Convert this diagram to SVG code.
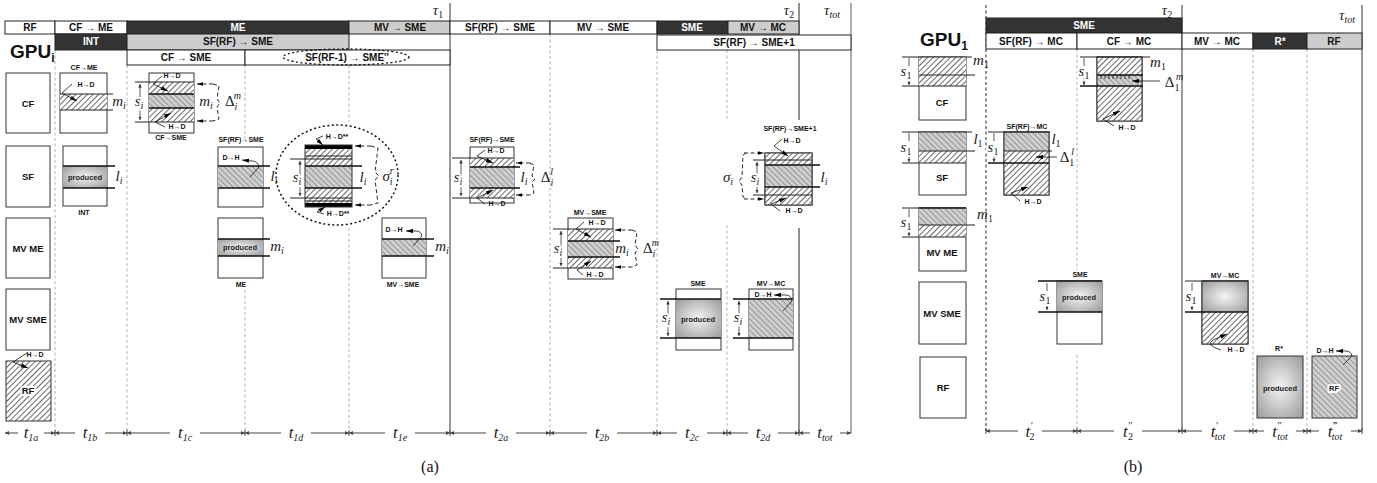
<svg xmlns="http://www.w3.org/2000/svg" width="1377" height="483" viewBox="0 0 1377 483">
<defs>
<style>
.h{font-family:"Liberation Sans",Arial,sans-serif;font-weight:bold;font-size:10px;text-anchor:middle;fill:#111}
.hw{fill:#fff}
.s{font-family:"Liberation Sans",Arial,sans-serif;font-weight:bold;font-size:7px;text-anchor:middle;fill:#111}
.r{font-family:"Liberation Sans",Arial,sans-serif;font-weight:bold;font-size:9.5px;text-anchor:middle;fill:#111}
.p{font-family:"Liberation Sans",Arial,sans-serif;font-weight:bold;font-size:7.5px;text-anchor:middle;fill:#222}
.m{font-family:"Liberation Serif","Times New Roman",serif;font-style:italic;font-size:15px;text-anchor:middle;fill:#222}
.t{font-size:17px}
.up{font-style:normal}
.sb{font-size:10px}
.halo{stroke:#fff;stroke-width:4;paint-order:stroke;stroke-linejoin:round}
.cell{stroke:#222;stroke-width:1}
.box{fill:#fff;stroke:#333;stroke-width:1}
.bn{fill:none;stroke:#333;stroke-width:1}
.ln{stroke:#222;stroke-width:1;fill:none}
.tk{stroke:#111;stroke-width:1.6;fill:none}
.vd{stroke:#b0b0b0;stroke-width:1;stroke-dasharray:3 2.5;fill:none}
.vk{stroke:#222;stroke-width:1;stroke-dasharray:3 2.5;fill:none}
.ar{stroke:#111;stroke-width:0.8;fill:none;marker-end:url(#ah)}
.db{stroke:#111;stroke-width:0.9;stroke-dasharray:4 2.5;fill:none}
.dba{stroke:#111;stroke-width:0.9;stroke-dasharray:4 2.5;fill:none;marker-end:url(#ah2)}
.dim{stroke:#333;stroke-width:0.8;fill:none;marker-start:url(#da);marker-end:url(#da)}
.dim1{stroke:#333;stroke-width:0.8;fill:none;marker-end:url(#da)}
.ax{stroke:#444;stroke-width:1;fill:none;marker-start:url(#ta);marker-end:url(#ta)}
.gap{fill:#fff}
</style>
<pattern id="hf" width="4" height="4" patternUnits="userSpaceOnUse" patternTransform="rotate(45)">
<rect width="4" height="4" fill="#fff"/>
<line x1="0.5" y1="0" x2="0.5" y2="4" stroke="#444" stroke-width="0.8"/>
</pattern>
<pattern id="hb" width="4" height="4" patternUnits="userSpaceOnUse" patternTransform="rotate(-45)">
<rect width="4" height="4" fill="#cfcfcf"/>
<line x1="0.5" y1="0" x2="0.5" y2="4" stroke="#888" stroke-width="0.8"/>
</pattern>
<radialGradient id="prod" cx="50%" cy="50%" r="70%">
<stop offset="0" stop-color="#f4f4f4"/>
<stop offset="1" stop-color="#9a9a9a"/>
</radialGradient>
<marker id="ah" viewBox="0 0 10 6" refX="10" refY="3" markerWidth="7" markerHeight="4.5" markerUnits="userSpaceOnUse" orient="auto"><path d="M0,0 L10,3 L0,6 z" fill="#000"/></marker>
<marker id="ah2" viewBox="0 0 10 6" refX="10" refY="3" markerWidth="6" markerHeight="4" markerUnits="userSpaceOnUse" orient="auto"><path d="M0,0 L10,3 L0,6 z" fill="#000"/></marker>
<marker id="da" viewBox="0 0 6 6" refX="6" refY="3" markerWidth="3.5" markerHeight="3.5" markerUnits="userSpaceOnUse" orient="auto-start-reverse"><path d="M0,0 L6,3 L0,6 z" fill="#333"/></marker>
<marker id="ta" viewBox="0 0 6 6" refX="6" refY="3" markerWidth="4" markerHeight="4" markerUnits="userSpaceOnUse" orient="auto-start-reverse"><path d="M0,0 L6,3 L0,6 z" fill="#444"/></marker>
</defs>
<rect width="1377" height="483" fill="#fff"/>

<g id="grid-a">
<line class="vd" x1="55" y1="50" x2="55" y2="433"/>
<line class="vd" x1="127" y1="65" x2="127" y2="433"/>
<path class="vd" d="M245,65 V140 M245,290 V433"/>
<path class="vd" d="M349,65 V122 M349,228 V433"/>
<line class="vd" x1="550" y1="34" x2="550" y2="433"/>
<line class="vd" x1="657" y1="50" x2="657" y2="433"/>
<path class="vd" d="M727,50 V120 M727,225 V433"/>
<line x1="450" y1="3" x2="450" y2="433" stroke="#9a9a9a" stroke-width="2"/>
<path d="M799,3 V120 M799,228 V433" stroke="#222" stroke-width="1" fill="none"/>
<line x1="851" y1="3" x2="851" y2="433" stroke="#9a9a9a" stroke-width="1.6"/>
</g>
<g id="grid-b">
<line class="vk" x1="986" y1="5" x2="986" y2="431"/>
<path class="vd" d="M1077,49 V270 M1077,355 V431"/>
<line class="vd" x1="1253" y1="49" x2="1253" y2="431"/>
<line class="vd" x1="1307" y1="49" x2="1307" y2="431"/>
<line x1="1182" y1="5" x2="1182" y2="431" stroke="#555" stroke-width="1.2"/>
<line x1="1362" y1="5" x2="1362" y2="431" stroke="#555" stroke-width="1.2"/>
</g>

<g id="header-a">
<text class="m" x="438" y="15">τ<tspan class="sb up" dy="3">1</tspan></text>
<text class="m" x="789" y="15">τ<tspan class="sb up" dy="3">2</tspan></text>
<text class="m" x="832" y="15">τ<tspan class="sb" dy="3">tot</tspan></text>
<rect class="cell" x="5" y="21" width="50" height="13" fill="#fff"/><text class="h" x="30" y="31">RF</text>
<rect class="cell" x="55" y="21" width="72" height="13" fill="#fff"/><text class="h" x="91" y="31">CF → ME</text>
<rect class="cell" x="127" y="21" width="222" height="13" fill="#333"/><text class="h hw" x="238" y="31">ME</text>
<rect class="cell" x="349" y="21" width="101" height="13" fill="#cdcdcd"/><text class="h" x="400" y="31">MV → SME</text>
<rect class="cell" x="450" y="21" width="100" height="13" fill="#fff"/><text class="h" x="500" y="31">SF(RF) → SME</text>
<rect class="cell" x="550" y="21" width="107" height="13" fill="#fff"/><text class="h" x="603" y="31">MV → SME</text>
<rect class="cell" x="657" y="21" width="71" height="13" fill="#333"/><text class="h hw" x="692" y="31">SME</text>
<rect class="cell" x="728" y="21" width="71" height="13" fill="#cdcdcd"/><text class="h" x="763" y="31">MV → MC</text>
<rect class="cell" x="55" y="34" width="72" height="16" fill="#333"/><text class="h hw" x="91" y="45">INT</text>
<rect class="cell" x="127" y="34" width="222" height="16" fill="#cdcdcd"/><text class="h" x="238" y="45">SF(RF) → SME</text>
<rect class="cell" x="657" y="35" width="194" height="15" fill="#fff"/><text class="h" x="754" y="46">SF(RF) → SME+1</text>
<rect class="cell" x="127" y="50" width="118" height="15" fill="#fff"/><text class="h" x="186" y="61">CF → SME</text>
<rect class="cell" x="245" y="50" width="205" height="15" fill="#fff"/><text class="h" x="347" y="61">SF(RF-1) → SME''</text>
<ellipse cx="346" cy="57" rx="63" ry="8" fill="none" stroke="#111" stroke-width="1.3" stroke-dasharray="2 2.5"/>
</g>

<g id="rows-a">
<text x="10" y="58" font-family="Liberation Sans,Arial,sans-serif" font-weight="bold" font-size="19" fill="#111">GPU<tspan font-size="12" dy="4">i</tspan></text>
<rect class="box" x="6" y="73" width="44" height="60"/><text class="r" x="28" y="107">CF</text>
<rect class="box" x="6" y="146" width="44" height="61"/><text class="r" x="28" y="180">SF</text>
<rect class="box" x="6" y="218" width="44" height="60"/><text class="r" x="28" y="252">MV ME</text>
<rect class="box" x="6" y="289" width="44" height="61"/><text class="r" x="28" y="323">MV SME</text>
</g>
<g id="rf-a">
<rect x="6" y="361" width="45" height="60" fill="url(#hf)" stroke="#333"/>
<text class="r halo" x="28" y="394">RF</text>
<text class="s" x="35" y="357">H→D</text>
<path class="ar" d="M27,353 L13,362 L28,368"/>
</g>

<g id="cf-me">
<text class="s" x="84" y="70">CF→ME</text>
<rect class="box" x="60" y="73" width="47" height="60"/>
<rect x="60" y="94" width="47" height="16" fill="url(#hf)"/>
<path class="ln" d="M60,94 H113 M60,110 H113"/>
<text class="s" x="86" y="87">H→D</text>
<path class="ar" d="M72,84 L62,93 L77,101"/>
<text class="m" x="119" y="106">m<tspan class="sb" dy="3">i</tspan></text>
</g>
<g id="int">
<rect class="box" x="63" y="146" width="44" height="60"/>
<rect x="63" y="166" width="44" height="22" fill="url(#prod)"/>
<path class="tk" d="M63,166 H115 M63,188 H115"/>
<text class="p" x="85" y="180">produced</text>
<text class="m" x="119" y="181">l<tspan class="sb" dy="3">i</tspan></text>
<text class="s" x="84" y="215">INT</text>
</g>

<g id="cf-sme">
<rect class="box" x="149" y="73" width="45" height="60"/>
<rect x="149" y="82" width="45" height="12" fill="url(#hf)"/>
<rect x="149" y="94" width="45" height="14" fill="url(#hb)"/>
<rect x="149" y="108" width="45" height="14" fill="url(#hf)"/>
<path class="ln" d="M135,82 H194 M135,122 H194"/>
<path class="tk" d="M149,94 H194 M149,108 H194"/>
<path class="dim" d="M140,84 V120"/>
<text class="m halo" x="139" y="106">s<tspan class="sb" dy="3">i</tspan></text>
<text class="s" x="172" y="78">H→D</text>
<path class="ar" d="M162,76 L153,84 L168,91"/>
<text class="s" x="177" y="129">H→D</text>
<path class="ar" d="M165,127 L155,122 L171,113"/>
<text class="m" x="206" y="106">m<tspan class="sb" dy="3">i</tspan></text>
<path class="dba" d="M213,84 H197"/>
<path class="dba" d="M213,121 H197"/>
<path class="db" d="M213,84 L219,86 L217,99 L220,103 L217,107 L219,119 L213,121"/>
<text class="m" x="233" y="106"><tspan class="up">Δ</tspan><tspan class="sb" dy="4">i</tspan><tspan class="sb" dx="-3.5" dy="-11">m</tspan></text>
<text class="s" x="171" y="140">CF→SME</text>
</g>

<g id="sfrf-sme-1d">
<text class="s" x="241" y="142">SF(RF)→SME</text>
<rect class="box" x="218" y="147" width="45" height="60"/>
<rect x="218" y="166" width="45" height="22" fill="url(#hb)"/>
<path class="tk" d="M218,166 H270 M218,188 H270"/>
<text class="s" x="231" y="160">D→H</text>
<path class="ar" d="M250,177 L259,167 Q258,161 252,161 L242,160"/>
<text class="m" x="274" y="181">l<tspan class="sb" dy="3">i</tspan></text>
</g>
<g id="me">
<rect class="box" x="218" y="218" width="45" height="60"/>
<rect x="218" y="239" width="45" height="17" fill="url(#prod)"/>
<path class="tk" d="M218,239 H270 M218,256 H270"/>
<text class="p" x="240" y="250">produced</text>
<text class="m" x="277" y="251">m<tspan class="sb" dy="3">i</tspan></text>
<text class="s" x="241" y="287">ME</text>
</g>

<g id="sigma-r">
<ellipse cx="337" cy="175" rx="61" ry="50" fill="none" stroke="#111" stroke-width="1.5" stroke-dasharray="2 2.5"/>
<rect x="305" y="149" width="47" height="54" fill="url(#hf)"/>
<rect x="305" y="166" width="47" height="22" fill="url(#hb)"/>
<rect x="305" y="145" width="47" height="4" fill="#000"/>
<rect x="305" y="203" width="47" height="4" fill="#000"/>
<rect class="bn" x="305" y="145" width="47" height="62"/>
<path class="ln" d="M305,156 H352 M290,159 H352 M290,198 H352 M305,201 H352"/>
<path class="tk" d="M305,166 H362 M305,188 H362"/>
<path class="dim" d="M300,161 V196"/>
<text class="m halo" x="297" y="182">s<tspan class="sb" dy="3">i</tspan></text>
<text class="m" x="363" y="182">l<tspan class="sb" dy="3">i</tspan></text>
<text class="s" x="337" y="139">H→D**</text>
<path class="ar" d="M323,136 L316,139 L323,145"/>
<text class="s" x="338" y="216">H→D**</text>
<path class="ar" d="M324,214 L317,212 L325,207"/>
<path class="dba" d="M371,146 H355"/>
<path class="dba" d="M371,205 H355"/>
<path class="db" d="M371,146 L378,148 L375,172 L379,176 L375,180 L378,203 L371,205"/>
<text class="m" x="388" y="181">σ<tspan class="sb" dy="4">i</tspan><tspan class="sb" dx="-3" dy="-11">r</tspan></text>
</g>

<g id="mv-sme-1e">
<rect class="box" x="382" y="218" width="44" height="60"/>
<rect x="382" y="239" width="44" height="17" fill="url(#hb)"/>
<path class="tk" d="M382,239 H434 M382,256 H434"/>
<text class="s" x="394" y="232">D→H</text>
<path class="ar" d="M413,246 L422,236 Q421,231 416,231 L406,231"/>
<text class="m" x="442" y="251">m<tspan class="sb" dy="3">i</tspan></text>
<text class="s" x="403" y="287">MV→SME</text>
</g>

<g id="sfrf-sme-2a">
<text class="s" x="492" y="142">SF(RF)→SME</text>
<rect class="box" x="470" y="147" width="44" height="56"/>
<rect x="470" y="158" width="44" height="9" fill="url(#hf)"/>
<rect x="470" y="167" width="44" height="21" fill="url(#hb)"/>
<rect x="470" y="188" width="44" height="10" fill="url(#hf)"/>
<path class="ln" d="M452,158 H514 M452,198 H514"/>
<path class="tk" d="M470,167 H520 M470,188 H520"/>
<path class="dim" d="M461,160 V196"/>
<text class="m halo" x="458" y="182">s<tspan class="sb" dy="3">i</tspan></text>
<text class="m" x="524" y="182">l<tspan class="sb" dy="3">i</tspan></text>
<text class="s" x="496" y="153">H→D</text>
<path class="ar" d="M485,150 L477,156 L493,163"/>
<text class="s" x="497" y="206">H→D</text>
<path class="ar" d="M485,204 L477,198 L493,190"/>
<path class="dba" d="M530,163 H516"/>
<path class="dba" d="M530,195 H516"/>
<path class="db" d="M530,163 L534,165 L532,176 L535,179 L532,182 L534,193 L530,195"/>
<text class="m" x="547" y="182"><tspan class="up">Δ</tspan><tspan class="sb" dy="4">i</tspan><tspan class="sb" dx="-3" dy="-11">l</tspan></text>
</g>

<g id="mv-sme-2b">
<text class="s" x="590" y="215">MV→SME</text>
<rect class="box" x="568" y="218" width="45" height="61"/>
<rect x="568" y="229" width="45" height="12" fill="url(#hf)"/>
<rect x="568" y="241" width="45" height="16" fill="url(#hb)"/>
<rect x="568" y="257" width="45" height="11" fill="url(#hf)"/>
<path class="ln" d="M553,229 H613 M553,268 H613"/>
<path class="tk" d="M568,241 H620 M568,257 H620"/>
<path class="dim" d="M561,231 V266"/>
<text class="m halo" x="558" y="253">s<tspan class="sb" dy="3">i</tspan></text>
<text class="m" x="622" y="253">m<tspan class="sb" dy="3">i</tspan></text>
<text class="s" x="597" y="225">H→D</text>
<path class="ar" d="M584,222 L576,229 L591,237"/>
<text class="s" x="595" y="277">H→D</text>
<path class="ar" d="M583,275 L577,270 L591,261"/>
<path class="dba" d="M632,230 H615"/>
<path class="dba" d="M632,267 H615"/>
<path class="db" d="M632,230 L637,232 L635,245 L638,249 L635,253 L637,265 L632,267"/>
<text class="m" x="651" y="253"><tspan class="up">Δ</tspan><tspan class="sb" dy="4">i</tspan><tspan class="sb" dx="-3.5" dy="-11">m</tspan></text>
</g>

<g id="sme-2c">
<text class="s" x="698" y="286">SME</text>
<rect class="box" x="676" y="289" width="45" height="61"/>
<rect x="676" y="299" width="45" height="39" fill="url(#prod)"/>
<path class="tk" d="M660,299 H721 M660,338 H721"/>
<text class="p" x="698" y="322">produced</text>
<path class="dim" d="M668,301 V336"/>
<text class="m halo" x="666" y="322">s<tspan class="sb" dy="3">i</tspan></text>
</g>

<g id="mv-mc-2d">
<text class="s" x="771" y="286">MV→MC</text>
<rect class="box" x="749" y="289" width="44" height="61"/>
<rect x="749" y="299" width="44" height="39" fill="url(#hb)"/>
<path class="tk" d="M733,299 H793 M733,338 H793"/>
<text class="s" x="763" y="297">D→H</text>
<path class="ar" d="M783,311 L792,301 Q791,295 786,295 L774,295"/>
<path class="dim" d="M739,301 V336"/>
<text class="m halo" x="738" y="322">s<tspan class="sb" dy="3">i</tspan></text>
</g>

<g id="sfrf-sme1">
<text class="s" x="790" y="131">SF(RF)→SME+1</text>
<rect class="box" x="765" y="153" width="47" height="52"/>
<rect x="765" y="153" width="47" height="12" fill="url(#hf)"/>
<rect x="765" y="165" width="47" height="22" fill="url(#hb)"/>
<rect x="765" y="187" width="47" height="18" fill="url(#hf)"/>
<rect class="bn" x="765" y="153" width="47" height="52"/>
<path class="ln" d="M753,160 H812 M753,195 H812"/>
<path class="tk" d="M765,165 H820 M765,187 H820"/>
<path class="dim" d="M757,162 V193"/>
<text class="m halo" x="755" y="182">s<tspan class="sb" dy="3">i</tspan></text>
<text class="m" x="824" y="182">l<tspan class="sb" dy="3">i</tspan></text>
<text class="s" x="792" y="143">H→D</text>
<path class="ar" d="M782,139 L774,146 L788,156"/>
<text class="s" x="794" y="213">H→D</text>
<path class="ar" d="M780,211 L771,204 L786,198"/>
<path class="dba" d="M744,153 H764"/>
<path class="dba" d="M744,199 H764"/>
<path class="db" d="M746,153 L743,155 L742,177 L739,181 L742,185 L743,197 L746,199"/>
<text class="m" x="728" y="182">σ<tspan class="sb" dy="3">i</tspan></text>
</g>

<g id="timeline-a">
<path class="ax" d="M5,433 H55"/>
<path class="ax" d="M55,433 H127"/>
<path class="ax" d="M127,433 H245"/>
<path class="ax" d="M245,433 H349"/>
<path class="ax" d="M349,433 H450"/>
<path class="ax" d="M450,433 H550"/>
<path class="ax" d="M550,433 H657"/>
<path class="ax" d="M657,433 H727"/>
<path class="ax" d="M727,433 H799"/>
<path class="ax" d="M799,433 H851"/>
<path stroke="#444" stroke-width="1" d="M55,430 V436 M127,430 V436 M245,430 V436 M349,430 V436 M450,430 V436 M550,430 V436 M657,430 V436 M727,430 V436 M799,430 V436"/>
<rect class="gap" x="18" y="425" width="26" height="16"/>
<rect class="gap" x="75" y="425" width="30" height="16"/>
<rect class="gap" x="170" y="425" width="30" height="16"/>
<rect class="gap" x="281" y="425" width="30" height="16"/>
<rect class="gap" x="385" y="425" width="30" height="16"/>
<rect class="gap" x="486" y="425" width="30" height="16"/>
<rect class="gap" x="587" y="425" width="30" height="16"/>
<rect class="gap" x="677" y="425" width="30" height="16"/>
<rect class="gap" x="748" y="425" width="30" height="16"/>
<rect class="gap" x="810" y="425" width="30" height="16"/>
<text class="m t" x="31" y="438">t<tspan class="sb" dy="3">1a</tspan></text>
<text class="m t" x="90" y="438">t<tspan class="sb" dy="3">1b</tspan></text>
<text class="m t" x="185" y="438">t<tspan class="sb" dy="3">1c</tspan></text>
<text class="m t" x="296" y="438">t<tspan class="sb" dy="3">1d</tspan></text>
<text class="m t" x="400" y="438">t<tspan class="sb" dy="3">1e</tspan></text>
<text class="m t" x="501" y="438">t<tspan class="sb" dy="3">2a</tspan></text>
<text class="m t" x="602" y="438">t<tspan class="sb" dy="3">2b</tspan></text>
<text class="m t" x="692" y="438">t<tspan class="sb" dy="3">2c</tspan></text>
<text class="m t" x="763" y="438">t<tspan class="sb" dy="3">2d</tspan></text>
<text class="m t" x="825" y="438">t<tspan class="sb" dy="3">tot</tspan></text>
<text x="430" y="472" font-family="Liberation Serif,serif" font-size="16" text-anchor="middle" fill="#111">(a)</text>
</g>

<g id="header-b">
<text class="m" x="1167" y="15">τ<tspan class="sb up" dy="3">2</tspan></text>
<text class="m" x="1347" y="20">τ<tspan class="sb" dy="3">tot</tspan></text>
<rect class="cell" x="986" y="18" width="196" height="15" fill="#333"/><text class="h hw" x="1084" y="29">SME</text>
<rect class="cell" x="986" y="33" width="91" height="16" fill="#fff"/><text class="h" x="1031" y="45">SF(RF) → MC</text>
<rect class="cell" x="1077" y="33" width="105" height="16" fill="#fff"/><text class="h" x="1129" y="45">CF → MC</text>
<rect class="cell" x="1182" y="33" width="71" height="16" fill="#fff"/><text class="h" x="1217" y="45">MV → MC</text>
<rect class="cell" x="1253" y="33" width="54" height="16" fill="#333"/><text class="h hw" x="1280" y="45">R*</text>
<rect class="cell" x="1307" y="33" width="55" height="16" fill="#cdcdcd"/><text class="h" x="1334" y="45">RF</text>
</g>

<g id="rows-b">
<text x="920" y="46" font-family="Liberation Sans,Arial,sans-serif" font-weight="bold" font-size="19" fill="#111">GPU<tspan font-size="12" dy="4">1</tspan></text>
</g>
<g id="cf-b">
<rect class="box" x="919" y="57" width="47" height="63"/>
<rect x="919" y="57" width="47" height="29" fill="url(#hf)"/>
<path class="ln" d="M902,57 H972 M902,86 H966"/>
<path class="ln" d="M919,75 H975"/>
<path class="dim1" d="M909,66 V58 M909,77 V85"/>
<text class="m halo" x="906" y="76">s<tspan class="sb up" dy="3">1</tspan></text>
<text class="m" x="981" y="65">m<tspan class="sb up" dy="3">1</tspan></text>
<text class="r" x="942" y="106">CF</text>
</g>
<g id="sf-b">
<rect class="box" x="919" y="132" width="47" height="63"/>
<rect x="919" y="132" width="47" height="19" fill="url(#hb)"/>
<rect x="919" y="151" width="47" height="12" fill="url(#hf)"/>
<path class="ln" d="M902,132 H972 M902,163 H966"/>
<path class="ln" d="M919,151 H975"/>
<path class="dim1" d="M909,141 V133 M909,153 V162"/>
<text class="m halo" x="906" y="152">s<tspan class="sb up" dy="3">1</tspan></text>
<text class="m" x="978" y="144">l<tspan class="sb up" dy="3">1</tspan></text>
<text class="r" x="942" y="181">SF</text>
</g>
<g id="mvme-b">
<rect class="box" x="919" y="208" width="47" height="63"/>
<rect x="919" y="208" width="47" height="17" fill="url(#hb)"/>
<rect x="919" y="225" width="47" height="12" fill="url(#hf)"/>
<path class="tk" d="M919,208 H966"/>
<path class="ln" d="M902,208 H919 M902,237 H966 M919,225 H975"/>
<path class="dim1" d="M909,217 V209 M909,228 V236"/>
<text class="m halo" x="906" y="227">s<tspan class="sb up" dy="3">1</tspan></text>
<text class="m" x="985" y="219">m<tspan class="sb up" dy="3">1</tspan></text>
<text class="r" x="942" y="256">MV ME</text>
</g>
<g id="mvsme-b">
<rect class="box" x="919" y="282" width="47" height="62"/>
<text class="r" x="942" y="317">MV SME</text>
</g>
<g id="rf-b">
<rect class="box" x="920" y="357" width="46" height="61"/>
<text class="r" x="943" y="391">RF</text>
</g>

<g id="sfrf-mc-b">
<text class="s" x="1027" y="129">SF(RF)→MC</text>
<rect class="box" x="1004" y="132" width="45" height="63"/>
<rect x="1004" y="132" width="45" height="19" fill="url(#hb)"/>
<rect x="1004" y="151" width="45" height="44" fill="url(#hf)"/>
<rect class="bn" x="1004" y="132" width="45" height="63"/>
<path class="ln" d="M988,132 H1050 M1004,151 H1052"/>
<path class="tk" d="M988,163 H1049"/>
<path class="dim1" d="M994,141 V133 M994,153 V162"/>
<text class="m halo" x="993" y="152">s<tspan class="sb up" dy="3">1</tspan></text>
<text class="m" x="1056" y="144">l<tspan class="sb up" dy="3">1</tspan></text>
<path class="ar" d="M1057,157 H1036" stroke-width="1.2"/>
<text class="m" x="1067" y="162"><tspan class="up">Δ</tspan><tspan class="sb up" dy="4">1</tspan><tspan class="sb" dx="-3" dy="-11">l</tspan></text>
<text class="s" x="1033" y="204">H→D</text>
<path class="ar" d="M1020,201 L1011,193 L1028,187"/>
</g>

<g id="cf-mc-b">
<rect class="box" x="1097" y="57" width="45" height="64"/>
<rect x="1097" y="57" width="45" height="18" fill="url(#hf)"/>
<rect x="1097" y="75" width="45" height="11" fill="url(#hb)"/>
<rect x="1097" y="86" width="45" height="35" fill="url(#hf)"/>
<rect class="bn" x="1097" y="57" width="45" height="64"/>
<path class="ln" d="M1080,57 H1150"/>
<path class="tk" d="M1097,75 H1143 M1080,86 H1143"/>
<path stroke="#111" stroke-width="0.8" d="M1101,75 V79 M1105,75 V79 M1109,75 V79 M1113,75 V79 M1117,75 V79 M1121,75 V79 M1125,75 V79 M1129,75 V79"/>
<path class="dim1" d="M1084,66 V58 M1084,77 V85"/>
<text class="m halo" x="1084" y="76">s<tspan class="sb up" dy="3">1</tspan></text>
<text class="m" x="1158" y="67">m<tspan class="sb up" dy="3">1</tspan></text>
<path class="ar" d="M1160,81 H1132" stroke-width="1.2"/>
<text class="m" x="1174" y="87"><tspan class="up">Δ</tspan><tspan class="sb up" dy="4">1</tspan><tspan class="sb" dx="-3.5" dy="-11">m</tspan></text>
<text class="s" x="1127" y="130">H→D</text>
<path class="ar" d="M1114,126 L1103,119 L1120,111"/>
</g>

<g id="sme-b">
<text class="s" x="1080" y="277">SME</text>
<rect class="box" x="1057" y="281" width="45" height="63"/>
<rect x="1057" y="281" width="45" height="31" fill="url(#prod)"/>
<path class="tk" d="M1038,281 H1102 M1038,312 H1102"/>
<text class="p" x="1079" y="300">produced</text>
<path class="dim1" d="M1047,291 V283 M1047,303 V310"/>
<text class="m halo" x="1045" y="301">s<tspan class="sb up" dy="3">1</tspan></text>
</g>

<g id="mv-mc-b">
<text class="s" x="1225" y="278">MV→MC</text>
<rect class="box" x="1202" y="281" width="46" height="63"/>
<rect x="1202" y="281" width="46" height="31" fill="url(#prod)"/>
<rect x="1202" y="312" width="46" height="32" fill="url(#hf)"/>
<rect class="bn" x="1202" y="281" width="46" height="63"/>
<path class="ln" d="M1185,281 H1248"/>
<path class="tk" d="M1185,312 H1248"/>
<path class="dim1" d="M1192,291 V283 M1192,303 V310"/>
<text class="m halo" x="1191" y="301">s<tspan class="sb up" dy="3">1</tspan></text>
<text class="s" x="1236" y="352">H→D</text>
<path class="ar" d="M1221,350 Q1205,345 1213,340 L1227,334" stroke-width="1.2"/>
</g>

<g id="rstar-b">
<text class="s" x="1279" y="351">R*</text>
<rect x="1257" y="356" width="46" height="62" fill="url(#prod)" stroke="#333"/>
<text class="p" x="1280" y="391">produced</text>
</g>
<g id="rf2-b">
<text class="s" x="1325" y="353">D→H</text>
<rect x="1312" y="356" width="45" height="62" fill="url(#hb)" stroke="#333"/>
<text class="p halo" x="1334" y="391">RF</text>
<path class="ar" d="M1343,365 L1352,356 Q1351,351 1346,351 L1336,351"/>
</g>

<g id="timeline-b">
<path class="ax" d="M986,431 H1077"/>
<path class="ax" d="M1077,431 H1182"/>
<path class="ax" d="M1182,431 H1253"/>
<path class="ax" d="M1253,431 H1307"/>
<path class="ax" d="M1307,431 H1362"/>
<path stroke="#444" stroke-width="1" d="M986,428 V434 M1077,428 V434 M1182,428 V434 M1253,428 V434 M1307,428 V434 M1362,428 V434"/>
<rect class="gap" x="1018" y="422" width="24" height="20"/>
<rect class="gap" x="1114" y="422" width="28" height="20"/>
<rect class="gap" x="1202" y="422" width="32" height="20"/>
<rect class="gap" x="1264" y="422" width="32" height="20"/>
<rect class="gap" x="1319" y="422" width="32" height="20"/>
<text class="m t" x="1030" y="437">t<tspan class="sb" dy="-8">′</tspan><tspan class="sb up" dx="-3" dy="11">2</tspan></text>
<text class="m t" x="1128" y="437">t<tspan class="sb" dy="-8">″</tspan><tspan class="sb up" dx="-4" dy="11">2</tspan></text>
<text class="m t" x="1218" y="437">t<tspan class="sb" dy="-8">′</tspan><tspan class="sb" dx="-3" dy="11">tot</tspan></text>
<text class="m t" x="1280" y="437">t<tspan class="sb" dy="-8">″</tspan><tspan class="sb" dx="-4" dy="11">tot</tspan></text>
<text class="m t" x="1335" y="437">t<tspan class="sb" dy="-8">‴</tspan><tspan class="sb" dx="-5" dy="11">tot</tspan></text>
<text x="1133" y="472" font-family="Liberation Serif,serif" font-size="16" text-anchor="middle" fill="#111">(b)</text>
</g>
</svg>
